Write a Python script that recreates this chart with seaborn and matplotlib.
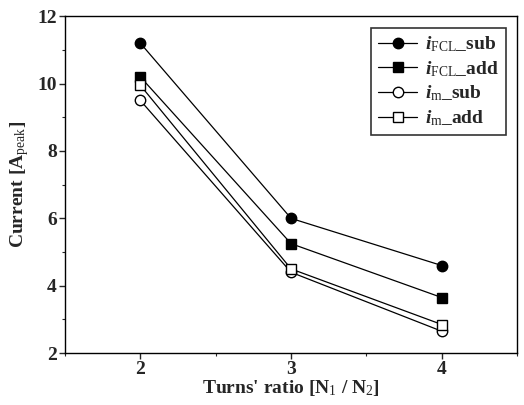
import pandas as pd
import matplotlib
matplotlib.use('Agg')
import matplotlib.pyplot as plt
import seaborn as sns
from matplotlib.ticker import MultipleLocator

# values
turns_ratio = [2, 3, 4]
i_fcl_sub = [11.2, 6.0, 4.6]
i_fcl_add = [10.2, 5.25, 3.65]
i_m_sub = [9.5, 4.4, 2.65]
i_m_add = [9.95, 4.5, 2.85]

series_labels = [r'$i_{\rm FCL}$_sub', r'$i_{\rm FCL}$_add', r'$i_{\rm m}$_sub', r'$i_{\rm m}$_add']
series_values = [i_fcl_sub, i_fcl_add, i_m_sub, i_m_add]

rows = []
for lab, vals in zip(series_labels, series_values):
    for x, y in zip(turns_ratio, vals):
        rows.append({'ratio': x, 'current': y, 'series': lab})
df = pd.DataFrame(rows)

sns.set_theme(style='ticks')
plt.rcParams['font.family'] = ['Liberation Serif', 'DejaVu Serif']
plt.rcParams['mathtext.fontset'] = 'custom'
plt.rcParams['mathtext.it'] = 'Liberation Serif:italic:bold'
plt.rcParams['mathtext.rm'] = 'Liberation Serif'

fig = plt.figure(figsize=(5.24, 4.05), dpi=100)
ax = fig.add_axes([0.124, 0.128, 0.863, 0.832])

styles = {
    series_labels[0]: dict(marker='o', mfc='black'),
    series_labels[1]: dict(marker='s', mfc='black'),
    series_labels[2]: dict(marker='o', mfc='white'),
    series_labels[3]: dict(marker='s', mfc='white'),
}

for lab in series_labels:
    sub = df[df['series'] == lab]
    st = styles[lab]
    sns.lineplot(data=sub, x='ratio', y='current', ax=ax, color='black', lw=0.9,
                 marker=st['marker'], markersize=7.5, markerfacecolor=st['mfc'],
                 markeredgecolor='black', markeredgewidth=1.0, label=lab)

ax.set_xlim(1.5, 4.5)
ax.set_ylim(2, 12)
ax.xaxis.set_major_locator(MultipleLocator(1))
ax.xaxis.set_minor_locator(MultipleLocator(0.5))
ax.yaxis.set_major_locator(MultipleLocator(2))
ax.yaxis.set_minor_locator(MultipleLocator(1))
ax.tick_params(which='major', direction='out', length=4, width=1, labelsize=14, pad=2)
ax.tick_params(which='minor', direction='out', length=2, width=0.8)
for t in ax.get_xticklabels() + ax.get_yticklabels():
    t.set_fontweight('bold')
for s in ax.spines.values():
    s.set_linewidth(1.0)
    s.set_color('black')

ax.set_xlabel("Turns' ratio [N$_{\\rm 1}$ / N$_{\\rm 2}$]", fontsize=14, fontweight='bold', labelpad=0)
ax.set_ylabel(r'Current [A$_{\rm peak}$]', fontsize=14, fontweight='bold', labelpad=4)

leg = ax.legend(loc='upper right', fontsize=14, frameon=True, fancybox=False,
                edgecolor='black', handlelength=2.0, handletextpad=0.4,
                borderpad=0.35, labelspacing=0.25, borderaxespad=0.6)
leg.get_frame().set_linewidth(1.2)
for t in leg.get_texts():
    t.set_fontweight('bold')

fig.savefig('out.png', dpi=100)
